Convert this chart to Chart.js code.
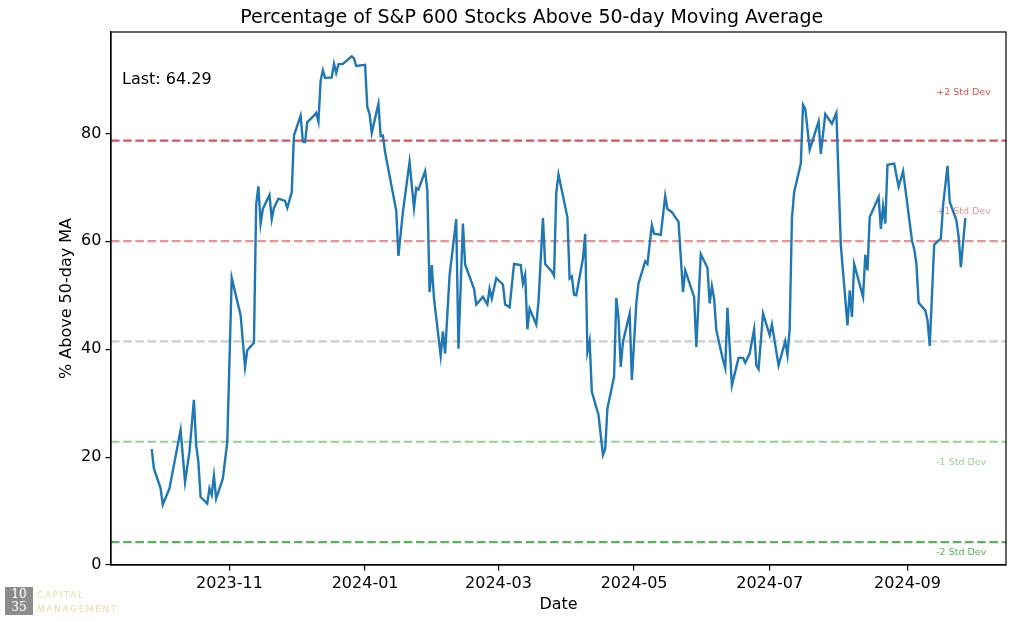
<!DOCTYPE html>
<html>
<head>
<meta charset="utf-8">
<script src="https://cdn.jsdelivr.net/npm/chart.js@4.4.1/dist/chart.umd.min.js"></script>
<style>
  body { margin: 0; background: #fff; }
  #wrap { position: relative; width: 1018px; height: 622px; }
  #logo { position: absolute; left: 5px; top: 587px; }
  #logo .box { position: absolute; left: 0; top: 0; width: 28px; height: 28px; background: #8c8c8c;
    color: #fff; font: 12px/13px "DejaVu Serif", serif; text-align: center; padding-top: 1px; box-sizing: border-box; }
  #logo .name { position: absolute; left: 32px; top: 1px; color: #eadb9f; font: 9px/14px "DejaVu Sans", sans-serif;
    letter-spacing: 1.6px; white-space: nowrap; }
</style>
</head>
<body>
<div id="wrap">
  <canvas id="ma-chart" width="1018" height="622"></canvas>
  <div id="logo"><div class="box">10<br>35</div><div class="name">CAPITAL<br>MANAGEMENT</div></div>
</div>
<script>
// ---- data ----
const dates = [
  "2023-09-27", "2023-09-28", "2023-10-01", "2023-10-02", "2023-10-05", "2023-10-10", "2023-10-12",
  "2023-10-14", "2023-10-16", "2023-10-17", "2023-10-18", "2023-10-19", "2023-10-22", "2023-10-23",
  "2023-10-24", "2023-10-25", "2023-10-26", "2023-10-29", "2023-10-31", "2023-11-02", "2023-11-06",
  "2023-11-08", "2023-11-09", "2023-11-12", "2023-11-13", "2023-11-14", "2023-11-15", "2023-11-16",
  "2023-11-19", "2023-11-20", "2023-11-21", "2023-11-23", "2023-11-26", "2023-11-27", "2023-11-29",
  "2023-11-30", "2023-12-03", "2023-12-04", "2023-12-05", "2023-12-06", "2023-12-09", "2023-12-10",
  "2023-12-11", "2023-12-12", "2023-12-13", "2023-12-14", "2023-12-17", "2023-12-18", "2023-12-19",
  "2023-12-20", "2023-12-22", "2023-12-26", "2023-12-27", "2023-12-28", "2024-01-01", "2024-01-02",
  "2024-01-03", "2024-01-04", "2024-01-07", "2024-01-08", "2024-01-09", "2024-01-10", "2024-01-15",
  "2024-01-16", "2024-01-18", "2024-01-21", "2024-01-23", "2024-01-24", "2024-01-25", "2024-01-28",
  "2024-01-29", "2024-01-30", "2024-01-31", "2024-02-01", "2024-02-04", "2024-02-05", "2024-02-06",
  "2024-02-08", "2024-02-11", "2024-02-12", "2024-02-14", "2024-02-15", "2024-02-19", "2024-02-20",
  "2024-02-23", "2024-02-25", "2024-02-26", "2024-02-27", "2024-02-29", "2024-03-03", "2024-03-04",
  "2024-03-06", "2024-03-08", "2024-03-11", "2024-03-12", "2024-03-13", "2024-03-14", "2024-03-15",
  "2024-03-18", "2024-03-19", "2024-03-21", "2024-03-22", "2024-03-25", "2024-03-26", "2024-03-27",
  "2024-03-28", "2024-04-01", "2024-04-02", "2024-04-03", "2024-04-04", "2024-04-05", "2024-04-08",
  "2024-04-09", "2024-04-10", "2024-04-11", "2024-04-12", "2024-04-15", "2024-04-17", "2024-04-18",
  "2024-04-19", "2024-04-22", "2024-04-23", "2024-04-24", "2024-04-25", "2024-04-26", "2024-04-29",
  "2024-04-30", "2024-05-02", "2024-05-03", "2024-05-06", "2024-05-07", "2024-05-09", "2024-05-10",
  "2024-05-13", "2024-05-15", "2024-05-16", "2024-05-18", "2024-05-21", "2024-05-23", "2024-05-24",
  "2024-05-28", "2024-05-29", "2024-05-31", "2024-06-03", "2024-06-04", "2024-06-05", "2024-06-06",
  "2024-06-07", "2024-06-10", "2024-06-11", "2024-06-12", "2024-06-14", "2024-06-17", "2024-06-19",
  "2024-06-20", "2024-06-22", "2024-06-24", "2024-06-25", "2024-06-26", "2024-06-28", "2024-07-01",
  "2024-07-02", "2024-07-05", "2024-07-08", "2024-07-09", "2024-07-10", "2024-07-11", "2024-07-12",
  "2024-07-15", "2024-07-16", "2024-07-17", "2024-07-19", "2024-07-23", "2024-07-24", "2024-07-26",
  "2024-07-29", "2024-07-31", "2024-08-02", "2024-08-05", "2024-08-06", "2024-08-07", "2024-08-08",
  "2024-08-12", "2024-08-13", "2024-08-14", "2024-08-15", "2024-08-19", "2024-08-20", "2024-08-21",
  "2024-08-22", "2024-08-23", "2024-08-26", "2024-08-28", "2024-08-30", "2024-09-03", "2024-09-04",
  "2024-09-05", "2024-09-06", "2024-09-09", "2024-09-10", "2024-09-11", "2024-09-13", "2024-09-16",
  "2024-09-17", "2024-09-19", "2024-09-20", "2024-09-23", "2024-09-24", "2024-09-25", "2024-09-27"
];
const pctAbove = [
  21.5, 17.9, 14.2, 11.2, 14.2, 25.0, 15.4,
  21.0, 30.6, 22.2, 19.1, 12.6, 11.4, 14.2,
  13.0, 16.5, 12.3, 16.0, 22.8, 53.2, 46.3,
  36.7, 39.8, 41.2, 66.8, 70.2, 63.3, 66.0,
  68.6, 64.1, 66.2, 67.9, 67.5, 66.2, 69.1,
  79.6, 83.3, 78.5, 78.4, 82.1, 83.3, 83.8,
  82.2, 89.8, 91.7, 90.3, 90.4, 92.9, 91.2,
  92.8, 92.9, 94.3, 93.9, 92.5, 92.7, 84.9,
  83.6, 80.1, 85.5, 79.5, 79.6, 76.5, 65.7,
  57.3, 65.4, 74.7, 66.2, 69.9, 69.6, 73.0,
  69.4, 50.6, 55.6, 49.4, 38.8, 43.3, 39.2,
  53.7, 64.1, 40.1, 63.3, 55.7, 51.2, 48.3,
  49.7, 48.3, 51.2, 49.4, 53.2, 52.0, 48.3,
  47.8, 55.8, 55.6, 52.2, 53.8, 43.7, 47.5,
  44.6, 48.8, 64.3, 55.8, 54.4, 53.6, 69.1,
  72.4, 64.5, 53.1, 53.5, 50.1, 50.0, 56.8,
  61.4, 39.5, 41.5, 32.1, 27.8, 20.4, 21.5,
  29.0, 34.9, 49.5, 45.7, 36.7, 41.4, 46.6,
  34.3, 48.5, 52.2, 56.3, 55.8, 63.0, 61.4,
  61.2, 68.4, 66.0, 65.4, 63.6, 50.6, 54.6,
  49.7, 40.4, 57.6, 55.1, 48.5, 51.7, 49.4,
  43.5, 38.0, 36.5, 47.7, 33.3, 38.4, 38.4,
  37.5, 39.2, 43.7, 37.0, 36.3, 46.6, 42.6,
  44.6, 37.0, 41.5, 38.9, 43.8, 64.2, 69.1,
  74.4, 85.3, 84.6, 77.0, 82.2, 76.2, 83.6,
  81.8, 83.8, 59.3, 44.4, 50.9, 46.0, 55.8,
  49.7, 57.5, 54.6, 64.5, 68.2, 62.3, 66.5,
  63.3, 74.2, 74.4, 70.1, 73.0, 60.2, 58.6,
  55.8, 48.6, 47.2, 45.4, 40.6, 59.4, 60.5,
  66.7, 74.0, 67.3, 63.9, 60.8, 55.2, 64.29
];
const stdLevels = [78.65, 60.05, 41.45, 22.85, 4.25];
const stdNames = ["+2 Std Dev", "+1 Std Dev", "", "-1 Std Dev", "-2 Std Dev"];
const stdColors = ["rgba(214,39,40,0.8)", "rgba(214,39,40,0.5)", "rgba(127,127,127,0.4)",
                   "rgba(44,160,44,0.5)", "rgba(44,160,44,0.8)"];
const stdLabelShift = [-48, -30, 0, 21, 10];
const xTickLabels = ["2023-11", "2024-01", "2024-03", "2024-05", "2024-07", "2024-09"];
const yTicks = [0, 20, 40, 60, 80];

// ---- derived ----
const xs = dates.map(d => Date.parse(d));
const span = xs[xs.length - 1] - xs[0];
const xMin = xs[0] - 0.05 * span;
const xMax = xs[xs.length - 1] + 0.05 * span;
const yHi = Math.max(...pctAbove);
const yLo = Math.min(...pctAbove, ...stdLevels);
const yMax = yHi + 0.05 * (yHi - yLo);
const lastVal = pctAbove[pctAbove.length - 1];

const font = "DejaVu Sans";

const levelSets = stdLevels.map((lv, i) => ({
  data: [{ x: xMin, y: lv }, { x: xMax, y: lv }],
  borderColor: stdColors[i],
  borderWidth: 2.2,
  borderDash: [8.5, 3.7],
  pointRadius: 0,
}));

const extras = {
  id: "extras",
  afterDatasetsDraw(chart) {
    const { ctx, chartArea: a, scales } = chart;
    ctx.save();
    ctx.strokeStyle = "#000";
    ctx.lineWidth = 1.2;
    ctx.strokeRect(a.left, a.top, a.right - a.left, a.bottom - a.top);

    ctx.fillStyle = "#000";
    ctx.font = "16px '" + font + "'";
    ctx.textBaseline = "middle";
    ctx.textAlign = "left";
    ctx.fillText("Last: " + lastVal.toFixed(2), a.left + 11, a.top + 48);

    ctx.font = "9.5px '" + font + "'";
    stdLevels.forEach((lv, i) => {
      if (!stdNames[i]) return;
      ctx.fillStyle = stdColors[i];
      const y = scales.y.getPixelForValue(lv) + stdLabelShift[i];
      ctx.fillText(stdNames[i], a.left + 0.922 * (a.right - a.left), y);
    });
    ctx.restore();
  },
};

new Chart(document.getElementById("ma-chart"), {
  type: "line",
  data: {
    datasets: [
      {
        data: xs.map((x, i) => ({ x: x, y: pctAbove[i] })),
        borderColor: "#1f77b4",
        borderWidth: 2.4,
        pointRadius: 0,
        tension: 0,
      },
      ...levelSets,
    ],
  },
  options: {
    responsive: false,
    animation: false,
    layout: { padding: { left: 57.4, right: 12, top: 0, bottom: 7.4 } },
    plugins: {
      legend: { display: false },
      tooltip: { enabled: false },
      title: {
        display: true,
        text: "Percentage of S&P 600 Stocks Above 50-day Moving Average",
        color: "#000",
        font: { family: font, size: 19, weight: "normal" },
        padding: { top: 6.4, bottom: 2.8 },
      },
    },
    scales: {
      x: {
        type: "linear",
        min: xMin,
        max: xMax,
        afterBuildTicks: (s) => { s.ticks = xTickLabels.map(l => ({ value: Date.parse(l + "-01") })); },
        afterFit: (s) => { s.height = 49.6; },
        ticks: {
          autoSkip: false,
          maxRotation: 0,
          padding: 4,
          color: "#000",
          font: { family: font, size: 16 },
          callback: (v, i) => xTickLabels[i],
        },
        grid: { drawOnChartArea: false, tickLength: 5.6, color: "#000", lineWidth: 1.2 },
        border: { color: "#000", width: 1.2 },
        title: { display: true, text: "Date", color: "#000", font: { family: font, size: 16 }, padding: { top: 4, bottom: 0 } },
      },
      y: {
        min: 0,
        max: yMax,
        afterBuildTicks: (s) => { s.ticks = yTicks.map(v => ({ value: v })); },
        afterFit: (s) => { s.width = 53.6; },
        ticks: { padding: 4, color: "#000", font: { family: font, size: 16 } },
        grid: { drawOnChartArea: false, tickLength: 5.6, color: "#000", lineWidth: 1.2 },
        border: { color: "#000", width: 1.2 },
        title: { display: true, text: "% Above 50-day MA", color: "#000", font: { family: font, size: 16 }, padding: { top: 0, bottom: 0 } },
      },
    },
  },
  plugins: [extras],
});
</script>
</body>
</html>
